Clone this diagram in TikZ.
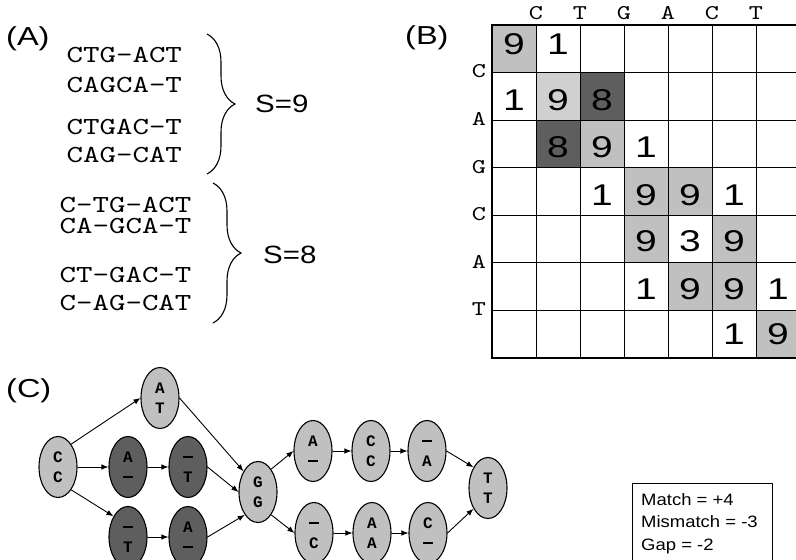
\documentclass[tikz,border=0pt]{standalone}
\usepackage{fontspec}
\setmainfont{Liberation Sans}
\newfontfamily\labfont{Liberation Sans}[FakeStretch=1.25]
\newfontfamily\sfont{Liberation Sans}[FakeStretch=1.18]
\newfontfamily\digfont{Liberation Sans}[FakeStretch=1.3]
\newfontfamily\scfont{Liberation Sans}[FakeStretch=1.12]
\newfontfamily\alnfont{lmmono10-regular.otf}[FakeStretch=1.28]
\newfontfamily\ndfont{Liberation Mono}
\usetikzlibrary{shapes.geometric,arrows.meta,decorations.pathreplacing}
\definecolor{cellg}{HTML}{C0C0C0}
\definecolor{celll}{HTML}{D0D0D0}
\definecolor{celld}{HTML}{5E5E5E}
\definecolor{nodel}{HTML}{C0C0C0}
\definecolor{noded}{HTML}{5E5E5E}
\begin{document}
\begin{tikzpicture}[x=1pt,y=-1pt,
 panel/.style={font=\labfont\fontsize{26}{30}\selectfont, inner sep=0pt, anchor=west},
 aln/.style={font=\alnfont\fontsize{24.5}{30}\selectfont, inner sep=0pt, anchor=base west, text height=15pt, text depth=2pt},
 alnpair/.style={font=\alnfont\fontsize{24.5}{21}\selectfont, inner sep=0pt, anchor=base west},
 stext/.style={font=\sfont\fontsize{25}{30}\selectfont, inner sep=0pt, anchor=west},
 brc/.style={decorate, decoration={brace, amplitude=28pt}, line width=1.1pt},
 dig/.style={font=\digfont\fontsize{30}{36}\selectfont, inner sep=0pt},
 seq/.style={font=\alnfont\fontsize{21}{24}\selectfont, inner sep=0pt},
 gridln/.style={line width=1pt, black},
 nd/.style={ellipse, draw, line width=1.1pt, minimum width=38pt, minimum height=61pt, inner sep=0pt, align=center, font=\ndfont\bfseries\fontsize{16}{20}\selectfont},
 lt/.style={nd, fill=nodel}, dk/.style={nd, fill=noded},
 arr/.style={-{Latex[length=7pt,width=5.5pt]}, line width=0.9pt},
 sct/.style={font=\scfont\fontsize{16.5}{20}\selectfont, inner sep=0pt, anchor=base west}
]
\useasboundingbox (0,0) rectangle (796,560);
\fill[white] (0,0) rectangle (796,560);

% ---------- (A) ----------
\node[panel] (la) at (6,39) {(A)};
\node[aln] (a1) at (66.5,62) {CTG-ACT};
\node[aln] (a2l) at (66.5,92) {CAGCA-T};
\node[aln] (a3) at (66.5,134) {CTGAC-T};
\node[aln] (a4) at (66.5,162) {CAG-CAT};
\node[alnpair] (b12) at (59.5,212) {\begin{tabular}[t]{@{}l@{}}C-TG-ACT\\CA-GCA-T\end{tabular}};
\node[aln] (b3) at (59.5,282) {CT-GAC-T};
\node[aln] (b4) at (59.5,310) {C-AG-CAT};
\coordinate (br1t) at (207,34);
\coordinate (br1b) at (207,174);
\coordinate (br2t) at (213,183);
\coordinate (br2b) at (213,323);
\draw[brc] (br1t) -- (br1b);
\draw[brc] (br2t) -- (br2b);
\node[stext] (s9) at (255,104) {S=9};
\node[stext] (s8) at (263,255) {S=8};

% ---------- (B) ----------
\node[panel] (lb) at (405,38) {(B)};
\foreach \r/\c/\col in {1/1/cellg, 2/2/celll, 2/3/celld, 3/2/celld, 3/3/cellg, 4/4/cellg, 4/5/cellg, 5/4/cellg, 5/6/cellg, 6/5/cellg, 6/6/cellg, 7/7/cellg}
  \fill[\col] ({492+44*(\c-1)},{25+47.571*(\r-1)}) rectangle ++(44,47.571);
\foreach \k in {1,...,7}
  \draw[gridln] ({492+44*\k},25) -- ({492+44*\k},358);
\foreach \k in {1,...,6}
  \draw[gridln] (492,{25+47.571*\k}) -- (800,{25+47.571*\k});
\draw[line width=2.5pt] (800,25) -- (492,25) -- (492,358) -- (800,358);
\foreach \nm/\x/\y/\v in {d11/514/44/9, d12/558/44/1, d21/514/100/1, d22/558/100/9, d23/602/100/8, d32/558/147/8, d33/602/147/9, d34/646/147/1, d43/602/195/1, d44/646/195/9, d45/690/195/9, d46/734/195/1, d54/646/241/9, d55/690/241/3, d56/734/241/9, d64/646/289/1, d65/690/289/9, d66/734/289/9, d67/778/289/1, d76/734/334/1, d77/778/334/9}
  \node[dig] (\nm) at (\x,\y) {\v};
\foreach \nm/\x/\t in {c1/536/C, c2/580/T, c3/624/G, c4/668/A, c5/712/C, c6/756/T}
  \node[seq] (\nm) at (\x,13) {\t};
\foreach \nm/\k/\t in {r1/1/C, r2/2/A, r3/3/G, r4/4/C, r5/5/A, r6/6/T}
  \node[seq] (\nm) at (479,{25+47.571*\k-1}) {\t};

% ---------- (C) ----------
\node[panel] (lc) at (6,391) {(C)};
\newcommand\tw[2]{\vphantom{A}#1\\\vphantom{A}#2}
\newcommand\dsh{\rule[4pt]{9.5pt}{1.9pt}}
\node[lt] (cc) at (58,467) {\tw{C}{C}};
\node[lt] (at) at (160,398) {\tw{A}{T}};
\node[dk] (am) at (128,467) {\tw{A}{\dsh}};
\node[dk] (tm) at (188,467) {\tw{\dsh}{T}};
\node[dk] (tb) at (128,537) {\tw{\dsh}{T}};
\node[dk] (ab) at (188,537) {\tw{A}{\dsh}};
\node[lt] (gg) at (258,492) {\tw{G}{G}};
\node[lt] (ua) at (313,451) {\tw{A}{\dsh}};
\node[lt] (uc) at (371,451) {\tw{C}{C}};
\node[lt] (ud) at (427,451) {\tw{\dsh}{A}};
\node[lt] (tt) at (488,488) {\tw{T}{T}};
\node[lt] (le) at (314,533) {\tw{\dsh}{C}};
\node[lt] (la2) at (372,533) {\tw{A}{A}};
\node[lt] (lcd) at (428,533) {\tw{C}{\dsh}};

\draw[arr] (cc.60) -- (at.west);
\draw[arr] (cc.east) -- (am.west);
\draw[arr] (cc.-60) -- (tb.125);
\draw[arr] (am.east) -- (tm.west);
\draw[arr] (tb.east) -- (ab.west);
\draw[arr] (at.east) -- (gg.125);
\draw[arr] (tm.east) -- (gg.west);
\draw[arr] (ab.east) -- (gg.-120);
\draw[arr] (gg.60) -- (ua.west);
\draw[arr] (gg.-60) -- (le.west);
\draw[arr] (ua.east) -- (uc.west);
\draw[arr] (uc.east) -- (ud.west);
\draw[arr] (ud.east) -- (tt.125);
\draw[arr] (le.east) -- (la2.west);
\draw[arr] (la2.east) -- (lcd.west);
\draw[arr] (lcd.east) -- (tt.-125);

% ---------- score box ----------
\node[draw, line width=1pt, minimum width=140pt, minimum height=85pt, inner sep=0pt, anchor=north west] (box) at (632,483) {};
\node[sct] (m1) at (641,505) {Match = +4};
\node[sct] (m2) at (641,527) {Mismatch = -3};
\node[sct] (m3) at (641,550) {Gap = -2};
\end{tikzpicture}
\end{document}
